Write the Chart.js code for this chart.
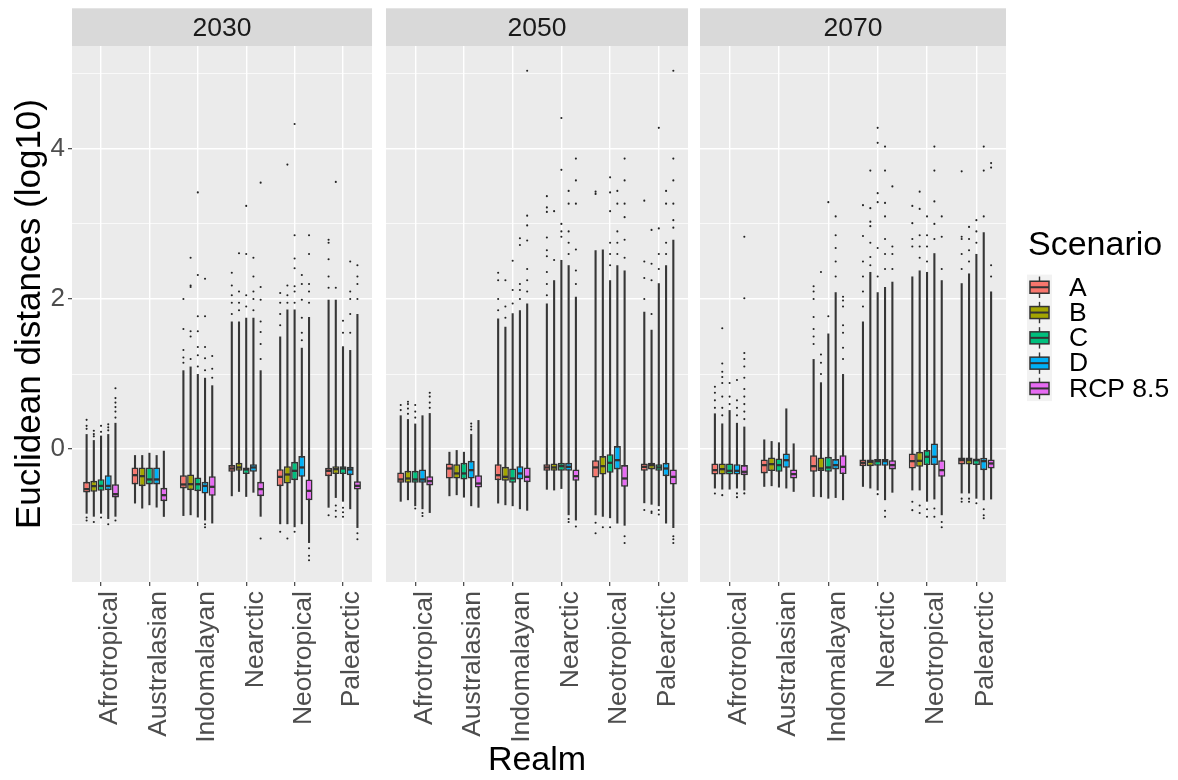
<!DOCTYPE html>
<html>
<head>
<meta charset="utf-8">
<script src="https://cdn.jsdelivr.net/npm/chart.js@4.4.1/dist/chart.umd.min.js"></script>
<style>
  html, body { margin: 0; padding: 0; background: #ffffff; }
  #wrap { position: relative; width: 1178px; height: 780px; overflow: hidden; }
  #wrap canvas { position: absolute; top: 0; }
</style>
</head>
<body>
<div id="wrap">
  <canvas id="c2030" width="380" height="780" style="left:0px"></canvas>
  <canvas id="c2050" width="316" height="780" style="left:380px"></canvas>
  <canvas id="c2070" width="484" height="780" style="left:694px"></canvas>
</div>
<script>
// Climate-space shift of species ranges: Euclidean distances (log10) by realm,
// one panel per projection year, one box per scenario.
const years = ['2030', '2050', '2070'];
const realms = ['Afrotropical', 'Australasian', 'Indomalayan', 'Nearctic', 'Neotropical', 'Palearctic'];
const scenarios = ['A', 'B', 'C', 'D', 'RCP 8.5'];
const scenarioColors = ['#F8766D', '#A3A500', '#00BF7D', '#00B0F6', '#E76BF3'];
const yGridValues = [-1, 0, 1, 2, 3, 4, 5];
const yRange = [-1.77, 5.37];

// Per realm, per scenario: [lower tail end, Q1, median, Q3, upper tail end]
// (tails run through the whisker and the tightly packed outliers)
const boxes2030 = [
  [[-0.86, -0.578, -0.533, -0.436, 0.20], [-0.90, -0.569, -0.493, -0.422, 0.12], [-0.86, -0.556, -0.49, -0.40, 0.18], [-0.93, -0.547, -0.49, -0.347, 0.20], [-0.90, -0.644, -0.60, -0.467, 0.35]],
  [[-0.724, -0.47, -0.347, -0.244, -0.08], [-0.791, -0.493, -0.36, -0.244, -0.08], [-0.747, -0.47, -0.404, -0.244, -0.049], [-0.778, -0.47, -0.404, -0.244, -0.08], [-0.902, -0.693, -0.613, -0.516, -0.022]],
  [[-0.89, -0.524, -0.471, -0.347, 1.05], [-0.88, -0.547, -0.467, -0.338, 1.10], [-0.91, -0.56, -0.467, -0.378, 1.00], [-0.95, -0.591, -0.49, -0.436, 0.95], [-0.99, -0.622, -0.502, -0.36, 0.85]],
  [[-0.627, -0.302, -0.258, -0.213, 1.70], [-0.569, -0.289, -0.244, -0.182, 1.70], [-0.636, -0.333, -0.271, -0.244, 1.75], [-0.58, -0.302, -0.244, -0.20, 1.75], [-0.90, -0.627, -0.533, -0.436, 1.05]],
  [[-1.00, -0.493, -0.369, -0.267, 1.50], [-1.00, -0.458, -0.338, -0.227, 1.86], [-1.04, -0.413, -0.289, -0.169, 1.86], [-1.00, -0.369, -0.244, -0.093, 1.35], [-1.25, -0.68, -0.556, -0.404, 1.76]],
  [[-0.78, -0.36, -0.289, -0.249, 1.99], [-0.65, -0.333, -0.267, -0.227, 1.99], [-0.70, -0.333, -0.258, -0.227, 1.37], [-0.80, -0.347, -0.271, -0.236, 1.32], [-1.05, -0.538, -0.489, -0.427, 1.80]]
];
const outliers2030 = [
  [[-0.91, -0.95, 0.27, 0.31, 0.39], [-0.97, 0.17, 0.20, 0.245], [-0.91, 0.23, 0.31], [-1.0, 0.25, 0.29, 0.33], [-0.95, 0.42, 0.50, 0.56, 0.62, 0.68, 0.81]],
  [[], [], [], [], []],
  [[1.15, 1.22, 1.32, 1.60, 2.00], [1.20, 1.50, 1.57, 2.16, 2.18, 2.55], [1.10, 1.25, 1.36, 1.57, 1.77, 2.32, 3.42], [-1.0, -1.04, 1.05, 1.21, 1.36, 1.77, 2.27], [0.95, 1.07, 1.24]],
  [[1.80, 1.95, 2.05, 2.18, 2.35], [1.85, 1.95, 2.10, 2.61], [1.90, 2.05, 2.60, 3.24], [1.85, 2.00, 2.10, 2.30, 2.55], [-1.19, 1.20, 1.40, 1.56, 1.70, 1.99, 2.16, 3.55]],
  [[-1.10, 1.65, 1.80, 1.95, 2.08], [-1.19, 1.95, 2.05, 2.18, 3.79], [-1.10, 1.95, 2.10, 2.17, 2.41, 2.54, 2.85, 4.33], [1.45, 1.55, 1.75, 1.99, 2.20, 2.32], [-1.32, -1.42, -1.48, 1.95, 2.10, 2.20, 2.60, 2.85]],
  [[-0.88, 2.15, 2.30, 2.53, 2.75, 2.79], [-0.75, -0.82, -0.90, 2.15, 3.56], [-0.78, -0.84, -0.90, 1.55, 1.71], [1.55, 1.80, 2.00, 2.10, 2.50], [-1.12, -1.20, 2.00, 2.20, 2.30, 2.45]]
];

const boxes2050 = [
  [[-0.70, -0.449, -0.404, -0.311, 0.45], [-0.68, -0.449, -0.391, -0.289, 0.40], [-0.76, -0.449, -0.404, -0.289, 0.34], [-0.80, -0.449, -0.404, -0.271, 0.45], [-0.85, -0.484, -0.427, -0.36, 0.48]],
  [[-0.627, -0.391, -0.258, -0.191, -0.036], [-0.613, -0.391, -0.324, -0.20, -0.013], [-0.645, -0.404, -0.324, -0.182, -0.036], [-0.76, -0.391, -0.28, -0.156, 0.20], [-0.78, -0.511, -0.458, -0.347, 0.387]],
  [[-0.724, -0.413, -0.347, -0.20, 1.74], [-0.747, -0.422, -0.369, -0.236, 1.63], [-0.76, -0.449, -0.391, -0.258, 1.81], [-0.80, -0.404, -0.324, -0.227, 1.85], [-0.82, -0.44, -0.369, -0.244, 1.94]],
  [[-0.54, -0.289, -0.244, -0.20, 1.94], [-0.55, -0.289, -0.244, -0.191, 2.25], [-0.53, -0.289, -0.227, -0.182, 2.52], [-0.88, -0.289, -0.236, -0.182, 2.45], [-0.95, -0.422, -0.36, -0.271, 2.03]],
  [[-0.88, -0.378, -0.244, -0.147, 2.65], [-0.90, -0.338, -0.227, -0.093, 2.66], [-0.92, -0.316, -0.182, -0.067, 2.25], [-0.99, -0.271, -0.147, 0.04, 2.45], [-1.02, -0.502, -0.391, -0.213, 2.38]],
  [[-0.72, -0.289, -0.236, -0.191, 1.83], [-0.74, -0.271, -0.213, -0.182, 1.59], [-0.76, -0.289, -0.244, -0.20, 2.21], [-0.99, -0.36, -0.258, -0.182, 2.45], [-1.05, -0.471, -0.369, -0.271, 2.79]]
];
const outliers2050 = [
  [[0.52, 0.587], [0.47, 0.54, 0.60, 0.631], [-0.79, 0.42, 0.50, 0.587], [-0.85, -0.89], [0.55, 0.62, 0.70, 0.751]],
  [[], [], [], [0.26, 0.30, 0.34], []],
  [[1.85, 2.00, 2.25, 2.35], [1.75, 1.90, 2.25], [1.94, 2.12, 2.51], [2.00, 2.12, 2.20, 2.72, 2.81], [2.10, 2.25, 2.40, 2.78, 2.98, 3.11, 5.04]],
  [[2.05, 2.20, 2.36, 2.57, 2.65, 2.82, 3.16, 3.22, 3.37], [2.52, 3.17], [2.83, 2.90, 3.00, 3.72, 4.41], [-0.93, -0.97, 2.60, 2.75, 2.90, 3.27, 3.44], [-1.03, 2.20, 2.38, 2.66, 3.27, 3.58, 3.87]],
  [[-0.98, -1.12, 3.40, 3.43], [-1.04], [-1.04, 2.45, 2.60, 2.75, 3.17, 3.42, 3.62], [2.60, 2.75, 2.90, 3.27, 3.44], [-1.16, -1.25, 2.55, 2.79, 3.09, 3.27, 3.58, 3.87]],
  [[-0.81, 2.00, 2.28, 2.50, 3.31], [-0.83, -0.85, 1.80, 2.25, 2.47, 2.92], [-0.81, -0.87, 2.40, 2.60, 2.94, 4.28], [2.60, 2.75, 3.27, 3.44], [-1.16, -1.20, -1.25, 2.95, 3.05, 3.27, 3.58, 3.87, 5.04]]
];

const boxes2070 = [
  [[-0.524, -0.338, -0.28, -0.191, 0.476], [-0.538, -0.338, -0.267, -0.191, 0.342], [-0.538, -0.338, -0.289, -0.191, 0.52], [-0.524, -0.338, -0.289, -0.20, 0.35], [-0.55, -0.347, -0.302, -0.213, 0.30]],
  [[-0.502, -0.324, -0.213, -0.138, 0.129], [-0.493, -0.293, -0.20, -0.111, 0.107], [-0.511, -0.302, -0.213, -0.124, 0.09], [-0.524, -0.249, -0.147, -0.058, 0.542], [-0.569, -0.391, -0.333, -0.271, 0.076]],
  [[-0.636, -0.302, -0.227, -0.08, 1.20], [-0.64, -0.293, -0.258, -0.111, 0.89], [-0.66, -0.302, -0.244, -0.102, 1.54], [-0.65, -0.271, -0.213, -0.133, 2.09], [-0.68, -0.333, -0.236, -0.08, 1.00]],
  [[-0.502, -0.227, -0.182, -0.138, 1.70], [-0.524, -0.227, -0.169, -0.138, 2.36], [-0.55, -0.222, -0.16, -0.133, 2.09], [-0.68, -0.222, -0.16, -0.133, 2.16], [-0.58, -0.271, -0.213, -0.147, 2.23]],
  [[-0.55, -0.258, -0.16, -0.058, 2.30], [-0.55, -0.236, -0.156, -0.036, 2.38], [-0.70, -0.213, -0.102, -0.013, 2.36], [-0.67, -0.213, -0.102, 0.076, 2.61], [-0.88, -0.369, -0.28, -0.147, 2.25]],
  [[-0.59, -0.204, -0.147, -0.111, 2.21], [-0.59, -0.204, -0.147, -0.111, 2.34], [-0.66, -0.213, -0.147, -0.124, 2.60], [-0.68, -0.28, -0.16, -0.116, 2.89], [-0.67, -0.258, -0.191, -0.138, 2.10]]
];
const outliers2070 = [
  [[-0.591, 0.55, 0.65, 0.75, 0.83], [-0.613, 0.45, 0.55, 0.70, 0.88, 0.96, 1.03, 1.14, 1.61], [0.60, 0.70, 0.88], [-0.59, -0.64, 0.45, 0.55, 0.65, 0.92], [-0.59, 0.40, 0.50, 0.60, 0.70, 0.80, 0.95, 1.10, 1.20, 1.28, 2.01, 2.83]],
  [[], [], [], [], []],
  [[1.40, 1.50, 1.60, 1.76, 2.00, 2.10, 2.17], [1.00, 1.15, 1.26, 2.36], [1.77, 3.29], [2.30, 2.50, 2.68, 2.85, 3.10], [1.20, 1.35, 1.55, 1.65, 1.90, 1.98, 2.03]],
  [[1.90, 2.10, 2.30, 2.50, 2.84, 3.25], [2.45, 2.56, 2.75, 2.97, 3.03, 3.21, 3.71], [-0.60, 2.30, 2.68, 3.29, 3.41, 4.08, 4.28], [-0.82, -0.90, 2.40, 2.60, 2.80, 3.10, 3.28, 3.71, 4.03], [2.40, 2.60, 2.70, 3.50]],
  [[-0.70, -0.813, 2.70, 2.80, 3.01, 3.24], [-0.75, -0.85, 2.55, 2.70, 2.85, 3.20, 3.43], [-0.80, -0.90, 2.50, 2.70, 2.85, 3.10], [-0.79, -0.90, 2.80, 3.00, 3.30, 3.71, 4.03], [-0.97, -1.04, 2.40, 2.83, 3.10]],
  [[-0.66, -0.70, 2.40, 2.60, 2.80, 2.83, 3.70], [-0.66, -0.70, 2.50, 2.65, 2.80, 2.96], [-0.72, 2.75, 2.90, 3.05], [-0.80, -0.88, -0.92, 3.10, 3.71, 4.03], [2.30, 2.45, 3.75, 3.81]]
];

const FONT = '"Liberation Sans", Arial, Helvetica, sans-serif';
Chart.defaults.font.family = FONT;
const INK = '#333333';

// grey panel background and the facet strip above it
const facetPanel = {
  id: 'facetPanel',
  beforeDraw(chart, args, opts) {
    const { ctx, chartArea: a } = chart;
    ctx.save();
    ctx.fillStyle = '#EBEBEB';
    ctx.fillRect(a.left, a.top, a.right - a.left, a.bottom - a.top);
    ctx.fillStyle = '#D9D9D9';
    ctx.fillRect(a.left, a.top - 37.7, a.right - a.left, 37.7);
    ctx.fillStyle = '#1A1A1A';
    ctx.font = '26.5px ' + FONT;
    ctx.textAlign = 'center';
    ctx.textBaseline = 'middle';
    ctx.fillText(opts.title, (a.left + a.right) / 2, a.top - 17.5);
    ctx.restore();
  }
};

// whiskers, medians and outliers drawn around the floating-bar boxes
const boxParts = {
  id: 'boxParts',
  beforeDatasetsDraw(chart) {
    const { ctx } = chart;
    const y = chart.scales.y;
    ctx.save();
    ctx.strokeStyle = '#363636';
    ctx.lineWidth = 2.1;
    chart.data.datasets.forEach((ds, d) => {
      chart.getDatasetMeta(d).data.forEach((bar, i) => {
        const s = ds.stats[i];
        ctx.beginPath();
        ctx.moveTo(bar.x, y.getPixelForValue(s[0]));
        ctx.lineTo(bar.x, y.getPixelForValue(s[4]));
        ctx.stroke();
      });
    });
    ctx.restore();
  },
  afterDatasetsDraw(chart) {
    const { ctx } = chart;
    const y = chart.scales.y;
    ctx.save();
    chart.data.datasets.forEach((ds, d) => {
      chart.getDatasetMeta(d).data.forEach((bar, i) => {
        const s = ds.stats[i];
        const half = bar.width / 2;
        ctx.strokeStyle = INK;
        ctx.lineWidth = 2.3;
        ctx.beginPath();
        const ym = y.getPixelForValue(s[2]);
        ctx.moveTo(bar.x - half + 0.8, ym);
        ctx.lineTo(bar.x + half - 0.8, ym);
        ctx.stroke();
        ctx.fillStyle = '#222222';
        ds.outliers[i].forEach(v => {
          ctx.beginPath();
          ctx.arc(bar.x, y.getPixelForValue(v), 1.05, 0, Math.PI * 2);
          ctx.fill();
        });
      });
    });
    ctx.restore();
  }
};

// scenario legend to the right of the last panel
const scenarioLegend = {
  id: 'scenarioLegend',
  afterDraw(chart, args, opts) {
    if (!opts.show) return;
    const { ctx, chartArea: a } = chart;
    const x0 = a.right + 21;
    const mid = (a.top + a.bottom) / 2;
    const keyH = 25.3;
    const keysTop = mid - 39.4;
    ctx.save();
    ctx.fillStyle = '#000000';
    ctx.font = '34px ' + FONT;
    ctx.textAlign = 'left';
    ctx.textBaseline = 'alphabetic';
    ctx.fillText('Scenario', x0 + 1, mid - 59);
    ctx.fillStyle = '#F2F2F2';
    ctx.fillRect(x0, keysTop, 25, keyH * scenarios.length);
    scenarios.forEach((name, k) => {
      const cy = keysTop + keyH * (k + 0.5);
      const cx = x0 + 12.5;
      ctx.strokeStyle = INK;
      ctx.lineWidth = 1.4;
      ctx.beginPath();
      ctx.moveTo(cx, cy - 10.7);
      ctx.lineTo(cx, cy + 10.7);
      ctx.stroke();
      ctx.fillStyle = scenarioColors[k];
      ctx.fillRect(x0 + 3, cy - 6, 19, 12);
      ctx.lineWidth = 1.5;
      ctx.strokeRect(x0 + 3, cy - 6, 19, 12);
      ctx.lineWidth = 2;
      ctx.beginPath();
      ctx.moveTo(x0 + 3, cy);
      ctx.lineTo(x0 + 22, cy);
      ctx.stroke();
      ctx.fillStyle = '#000000';
      ctx.font = '26.5px ' + FONT;
      ctx.textBaseline = 'middle';
      ctx.fillText(name, x0 + 42, cy + 1);
    });
    ctx.restore();
  }
};

function buildPanel(canvasId, year, boxes, outliers, layout) {
  const datasets = scenarios.map((name, d) => ({
    label: name,
    data: realms.map((_, i) => ({ x: i, y: [boxes[i][d][1], boxes[i][d][3]] })),
    stats: realms.map((_, i) => boxes[i][d]),
    outliers: realms.map((_, i) => outliers[i][d]),
    backgroundColor: scenarioColors[d],
    borderColor: INK,
    borderWidth: 1.6,
    borderSkipped: false,
    categoryPercentage: 0.745,
    barPercentage: 0.97
  }));

  const yAxis = layout.yAxis ? {
    display: true,
    min: yRange[0], max: yRange[1],
    afterBuildTicks: s => { s.ticks = yGridValues.map(v => ({ value: v })); },
    afterFit: s => { s.width = 72; },
    border: { display: false },
    grid: {
      color: '#FFFFFF',
      lineWidth: c => (c.tick && c.tick.value % 2 === 0 ? 1.4 : 0.7),
      tickColor: c => (c.tick && c.tick.value % 2 === 0 ? INK : 'rgba(0,0,0,0)'),
      tickWidth: 1.1,
      tickLength: 4
    },
    ticks: {
      color: '#4D4D4D',
      font: { size: 26 },
      padding: 3,
      callback: v => (v % 2 === 0 ? String(v) : '')
    },
    title: {
      display: true,
      text: 'Euclidean distances (log10)',
      color: '#000000',
      font: { size: 35 },
      padding: { top: 9, bottom: 0 }
    }
  } : {
    display: true,
    min: yRange[0], max: yRange[1],
    afterBuildTicks: s => { s.ticks = yGridValues.map(v => ({ value: v })); },
    afterFit: s => { s.width = 0; },
    border: { display: false },
    grid: {
      color: '#FFFFFF',
      lineWidth: c => (c.tick && c.tick.value % 2 === 0 ? 1.4 : 0.7),
      drawTicks: false
    },
    ticks: { display: false }
  };

  return new Chart(document.getElementById(canvasId), {
    type: 'bar',
    data: { datasets },
    options: {
      responsive: false,
      animation: false,
      devicePixelRatio: 1,
      layout: { padding: { top: 46, left: layout.padLeft, right: layout.padRight, bottom: 0 } },
      scales: {
        x: {
          type: 'linear',
          min: -0.6, max: 5.6,
          offset: false,
          afterBuildTicks: s => { s.ticks = realms.map((_, i) => ({ value: i })); },
          afterFit: s => { s.height = 198; },
          border: { display: false },
          grid: {
            color: '#FFFFFF',
            lineWidth: 1.4,
            offset: false,
            tickColor: INK,
            tickWidth: 1.1,
            tickLength: 4
          },
          ticks: {
            autoSkip: false,
            minRotation: 90,
            maxRotation: 90,
            color: '#4D4D4D',
            font: { size: 26.5 },
            padding: 5,
            labelOffset: 9,
            callback: v => realms[v] ?? ''
          },
          title: {
            display: !!layout.xTitle,
            text: 'Realm',
            color: '#000000',
            font: { size: 34, lineHeight: 1.12 },
            padding: { top: 0, bottom: 0 }
          }
        },
        y: yAxis
      },
      plugins: {
        legend: { display: false },
        tooltip: { enabled: false },
        facetPanel: { title: year },
        scenarioLegend: { show: !!layout.legend }
      }
    },
    plugins: [facetPanel, boxParts, scenarioLegend]
  });
}

buildPanel('c2030', years[0], boxes2030, outliers2030, { yAxis: true, padLeft: 0, padRight: 2 });
buildPanel('c2050', years[1], boxes2050, outliers2050, { padLeft: 6, padRight: 4, xTitle: true });
buildPanel('c2070', years[2], boxes2070, outliers2070, { padLeft: 6, padRight: 172, legend: true });
</script>
</body>
</html>
